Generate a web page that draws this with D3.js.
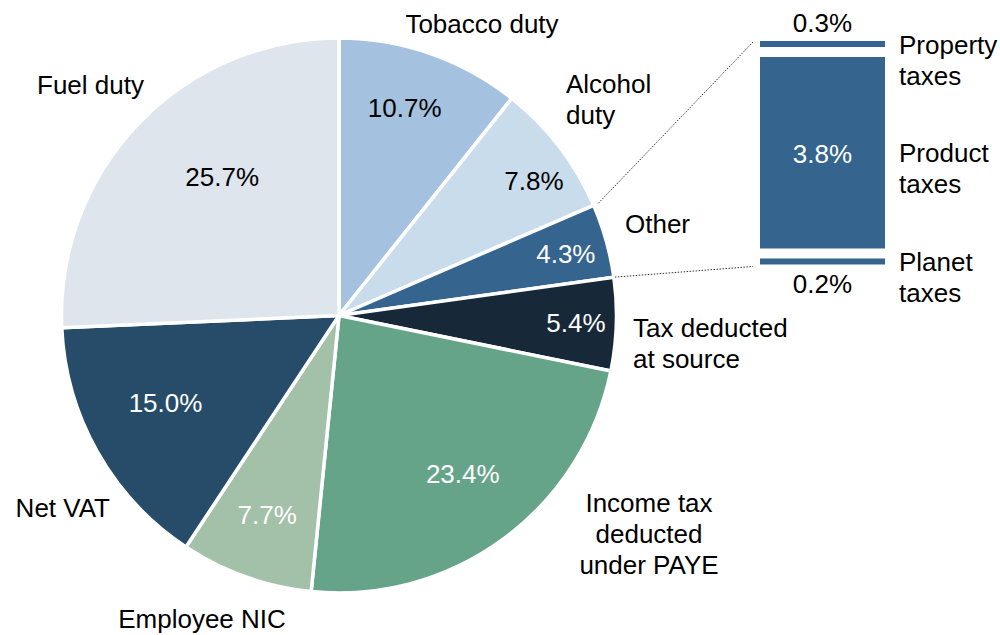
<!DOCTYPE html>
<html>
<head>
<meta charset="utf-8">
<script src="https://cdn.jsdelivr.net/npm/d3@7"></script>
<style>
  body { margin: 0; background: #fff; }
  text { font-family: "Liberation Sans", Arial, sans-serif; font-size: 26px; }
</style>
</head>
<body>
<div id="chart"></div>
<script>
// Pie slices, clockwise from 12 o'clock
const categories = ['Tobacco duty', 'Alcohol duty', 'Other', 'Tax deducted at source',
  'Income tax deducted under PAYE', 'Employee NIC', 'Net VAT', 'Fuel duty'];
const shares = [10.7, 7.8, 4.3, 5.4, 23.4, 7.7, 15.0, 25.7];
const sliceColors = ['#a4c2df', '#c8dcec', '#35648f', '#172839', '#66a489', '#a3c0a9', '#264c69', '#dee5ec'];
const darkSlice = [false, false, true, true, true, true, true, false];

// Breakdown of "Other" (bar of pie)
const otherParts = ['Property taxes', 'Product taxes', 'Planet taxes'];
const otherShares = [0.3, 3.8, 0.2];

// label lines for the pie categories
const categoryLines = [
  ['Tobacco duty'], ['Alcohol', 'duty'], ['Other'], ['Tax deducted', 'at source'],
  ['Income tax', 'deducted', 'under PAYE'], ['Employee NIC'], ['Net VAT'], ['Fuel duty']
];
const partLines = [['Property', 'taxes'], ['Product', 'taxes'], ['Planet', 'taxes']];

const width = 1000;
const height = 635;
const cx = 339, cy = 315.5, radius = 277.5;
const lineH = 31;

// percent label placement: fraction of radius, angle nudge (deg)
const pctPlace = [[0.785, -1.7], [0.854, 2.8], [0.847, 0.5], [0.854, 0],
  [0.725, -1.6], [0.764, 0.2], [0.70, 2.8], [0.653, 6.1]];
// category label placement relative to pie centre: dx, dy (first baseline), anchor
const catPlace = [[143, -282.5, 'middle'], [227, -222.5, 'start'], [286, -82.5, 'start'],
  [294, 21.5, 'start'], [310, 196.5, 'middle'], [-137, 312.5, 'middle'],
  [-229, 201.5, 'end'], [-302, -221.5, 'start']];

const svg = d3.select('#chart')
  .append('svg')
  .attr('width', width)
  .attr('height', height);

const pie = d3.pie().sort(null).value(d => d);
const arcs = pie(shares);

const arc = d3.arc().innerRadius(0).outerRadius(radius);

const g = svg.append('g').attr('transform', 'translate(' + cx + ',' + cy + ')');

g.selectAll('path')
  .data(arcs)
  .enter()
  .append('path')
  .attr('d', arc)
  .attr('fill', (d, i) => sliceColors[i])
  .attr('stroke', '#fff')
  .attr('stroke-width', 3.5)
  .attr('stroke-linejoin', 'round');

// percent labels inside slices
g.selectAll('text.pct')
  .data(arcs)
  .enter()
  .append('text')
  .attr('class', 'pct')
  .attr('text-anchor', 'middle')
  .attr('dy', '0.35em')
  .attr('fill', (d, i) => darkSlice[i] ? '#fff' : '#000')
  .attr('x', (d, i) => {
    const a = (d.startAngle + d.endAngle) / 2 + pctPlace[i][1] * Math.PI / 180;
    return Math.sin(a) * radius * pctPlace[i][0];
  })
  .attr('y', (d, i) => {
    const a = (d.startAngle + d.endAngle) / 2 + pctPlace[i][1] * Math.PI / 180;
    return -Math.cos(a) * radius * pctPlace[i][0];
  })
  .text(d => d.data.toFixed(1) + '%');

// category labels outside
categoryLines.forEach((lines, i) => {
  const t = g.append('text')
    .attr('text-anchor', catPlace[i][2])
    .attr('fill', '#000');
  lines.forEach((ln, j) => {
    t.append('tspan')
      .attr('x', catPlace[i][0])
      .attr('y', catPlace[i][1] + j * lineH)
      .text(ln);
  });
});

// Bar of pie for "Other"
const barX = 760, barW = 125, barTop = 41;
const gap = 10, minH = 6;
const yBar = d3.scaleLinear().domain([0, d3.sum(otherShares)]).range([0, 228]);

let cursor = barTop;
const segs = otherShares.map((v, i) => {
  const h = Math.max(minH, yBar(v) - gap);
  const s = { name: otherParts[i], value: v, y0: cursor, h: h };
  cursor += h + gap;
  return s;
});

svg.selectAll('rect.seg')
  .data(segs)
  .enter()
  .append('rect')
  .attr('class', 'seg')
  .attr('x', barX)
  .attr('y', d => d.y0)
  .attr('width', barW)
  .attr('height', d => d.h)
  .attr('fill', sliceColors[2]);

// value labels on the bar
svg.selectAll('text.segval')
  .data(segs)
  .enter()
  .append('text')
  .attr('class', 'segval')
  .attr('text-anchor', 'middle')
  .attr('x', barX + barW / 2)
  .attr('y', (d, i) => {
    if (i === 0) return d.y0 - 9;
    if (i === segs.length - 1) return d.y0 + d.h + 29;
    return d.y0 + d.h / 2 + 10;
  })
  .attr('fill', (d, i) => (i === 0 || i === segs.length - 1) ? '#000' : '#fff')
  .text(d => d.value.toFixed(1) + '%');

// names next to the bar
segs.forEach((s, i) => {
  const t = svg.append('text').attr('fill', '#000');
  partLines[i].forEach((ln, j) => {
    t.append('tspan')
      .attr('x', barX + barW + 14)
      .attr('y', s.y0 + s.h / 2 + 9.5 + j * lineH)
      .text(ln);
  });
});

// dotted connector lines from the "Other" slice to the bar
const otherArc = arcs[2];
const lastSeg = segs[segs.length - 1];
const connectors = [
  { a: otherArc.startAngle, r: radius + 5, y: barTop + 1 },
  { a: otherArc.endAngle, r: radius + 1, y: lastSeg.y0 + lastSeg.h + 2 }
];
svg.selectAll('line.conn')
  .data(connectors)
  .enter()
  .append('line')
  .attr('class', 'conn')
  .attr('x1', d => cx + Math.sin(d.a) * d.r)
  .attr('y1', d => cy - Math.cos(d.a) * d.r)
  .attr('x2', barX - 7)
  .attr('y2', d => d.y)
  .attr('stroke', '#333')
  .attr('stroke-width', 1)
  .attr('stroke-dasharray', '1.5,1.5');
</script>
</body>
</html>
